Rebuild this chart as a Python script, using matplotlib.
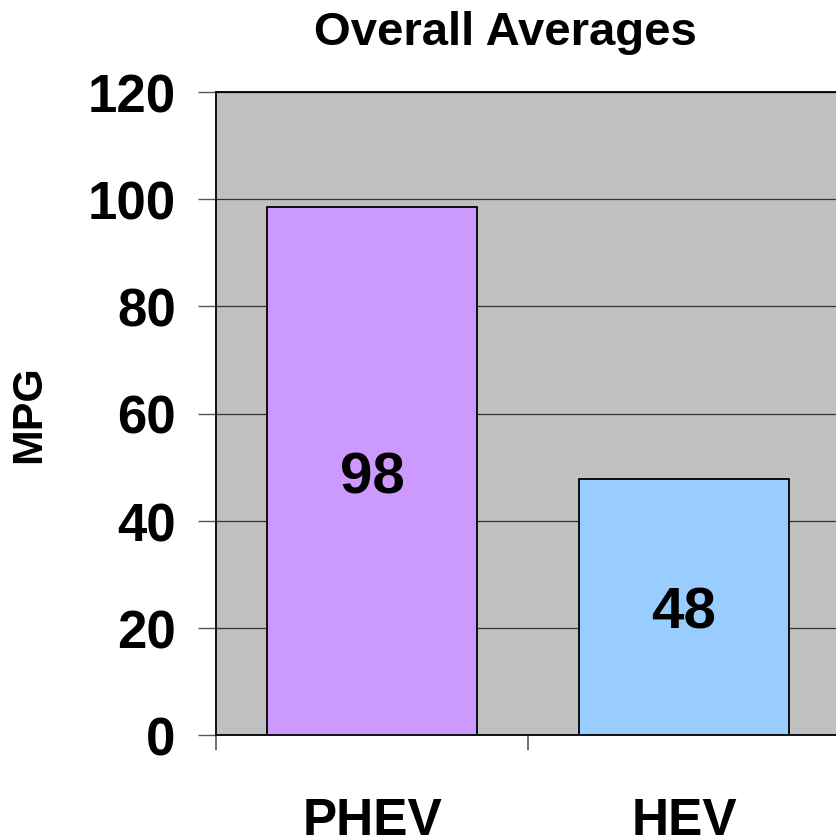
import matplotlib
matplotlib.use("Agg")
from matplotlib import pyplot

categories = ["PHEV", "HEV"]
mpg = [98.5, 47.8]
labels = ["98", "48"]
colors = ["#CC99FF", "#99CCFF"]
y_ticks = [0, 20, 40, 60, 80, 100, 120]

pyplot.rcParams["font.family"] = ["Liberation Sans", "DejaVu Sans"]
pyplot.rcParams["font.weight"] = "bold"

fig = pyplot.figure(figsize=[8.36, 8.37], dpi=100)
# plot area runs slightly past the right edge of the picture
ax = fig.add_axes([216 / 836, 1 - 736 / 837, 624 / 836, 643 / 837])
ax.set_facecolor("#C0C0C0")
ax.set_axisbelow(True)

x = list(range(len(categories)))
bars = ax.bar(x, mpg, width=0.67, color=colors, edgecolor="black", linewidth=1.3, zorder=3)
for b, lab in zip(bars, labels):
    ax.text(b.get_x() + b.get_width() / 2, b.get_height() / 2, lab,
            ha="center", va="center_baseline", fontsize=42, fontweight="bold", zorder=4)

ax.set_xlim(-0.5, 1.5)
ax.set_ylim(0, 120)
ax.set_yticks(y_ticks)
ax.set_yticklabels([str(v) for v in y_ticks], fontsize=38, fontweight="bold")
ax.grid(axis="y", color="#333333", linewidth=0.9, zorder=1)

ax.set_xticks(x)
ax.set_xticklabels(categories, fontsize=37, fontweight="bold")
ax.set_xticks([-0.5, 0.5], minor=True)
ax.tick_params(axis="x", which="major", length=0, pad=44)
ax.tick_params(axis="x", which="minor", length=11, width=1.2, color="#555555", direction="out")
ax.tick_params(axis="y", length=13, width=1, color="#555555", pad=16)

for s in ax.spines.values():
    s.set_color("black")
    s.set_linewidth(1.3)

ax.set_ylabel("MPG", fontsize=31, fontweight="bold")
ax.yaxis.set_label_coords(-0.268, 0.5)
fig.text(505 / 836, 1 - 33 / 837, "Overall Averages", ha="center", va="center",
         fontsize=34, fontweight="bold")

fig.savefig("out.png", dpi=100)
